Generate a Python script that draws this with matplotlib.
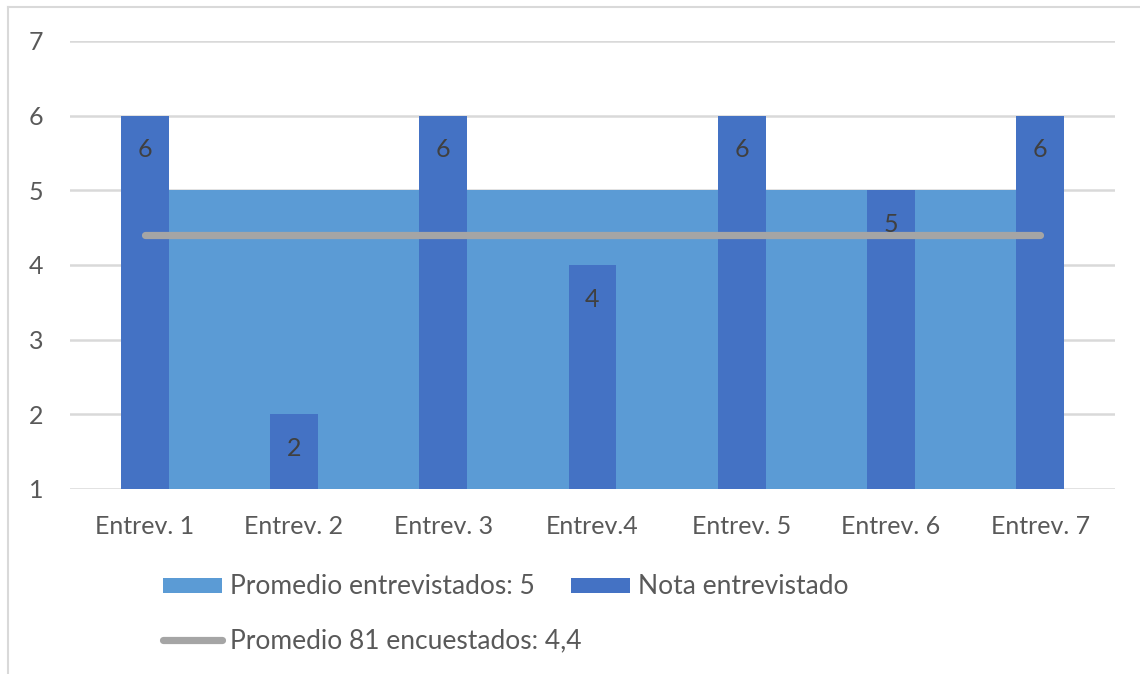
import numpy as np
import matplotlib.pyplot as plt
from matplotlib.lines import Line2D

plt.rcParams['font.family'] = ['Lato', 'DejaVu Sans']

entrevistas = ["Entrev. 1", "Entrev. 2", "Entrev. 3", "Entrev.4",
               "Entrev. 5", "Entrev. 6", "Entrev. 7"]
nota = [6, 2, 6, 4, 6, 5, 6]
promedio_entrevistados = [5, 5, 5, 5, 5, 5, 5]
promedio_encuestados = [4.4, 4.4, 4.4, 4.4, 4.4, 4.4, 4.4]

c_area = "#5B9BD5"
c_bar = "#4472C4"
c_line = "#A5A5A5"
c_text = "#595959"
fs = 18
fs_leg = 19

fig = plt.figure(figsize=(11.4, 6.74), dpi=100)
ax = fig.add_axes([0.0614, 0.2745, 0.9166, 0.6647])

x = np.arange(len(entrevistas))
base = 1

area = ax.fill_between(x, base, promedio_entrevistados, color=c_area, lw=0,
                       zorder=2, label="Promedio entrevistados: 5")
bars = ax.bar(x, np.array(nota) - base, bottom=base, width=0.32, color=c_bar,
              zorder=3, label="Nota entrevistado")
line, = ax.plot(x, promedio_encuestados, color=c_line, lw=5.2,
                solid_capstyle="round", zorder=4,
                label="Promedio 81 encuestados: 4,4")

for xi, v in zip(x, nota):
    ax.text(xi, v - 0.46, str(v), ha="center", va="center",
            fontsize=fs, color="#404040", zorder=5)

ax.set_xlim(-0.5, 6.5)
ax.set_ylim(1, 7)
ax.set_yticks(range(1, 8))
ax.set_xticks(x)
ax.set_xticklabels(entrevistas)
ax.tick_params(length=0, labelsize=fs, colors=c_text)
ax.tick_params(axis="x", pad=19)
ax.tick_params(axis="y", pad=19)
ax.grid(axis="y", color="#D9D9D9", lw=1.8, zorder=0)
ax.set_axisbelow(True)
for s in ax.spines.values():
    s.set_visible(False)

leg_kw = dict(frameon=False, fontsize=fs_leg, labelcolor=c_text,
              handlelength=2.25, handleheight=0.5, handletextpad=0.3,
              borderaxespad=0, borderpad=0, loc="center left")
leg1 = fig.legend(handles=[area, bars], ncol=2, columnspacing=1.36,
                  bbox_to_anchor=(163 / 1140, 1 - 587 / 674), **leg_kw)
leg2 = fig.legend(handles=[line], bbox_to_anchor=(163 / 1140, 1 - 641 / 674),
                  **leg_kw)

# outer frame (left and top only)
fig.add_artist(Line2D([0.007, 0.007], [0, 0.989], color="#D9D9D9", lw=1.5))
fig.add_artist(Line2D([0.007, 1.0], [0.989, 0.989], color="#D9D9D9", lw=1.5))

fig.savefig("out.png", dpi=100)
